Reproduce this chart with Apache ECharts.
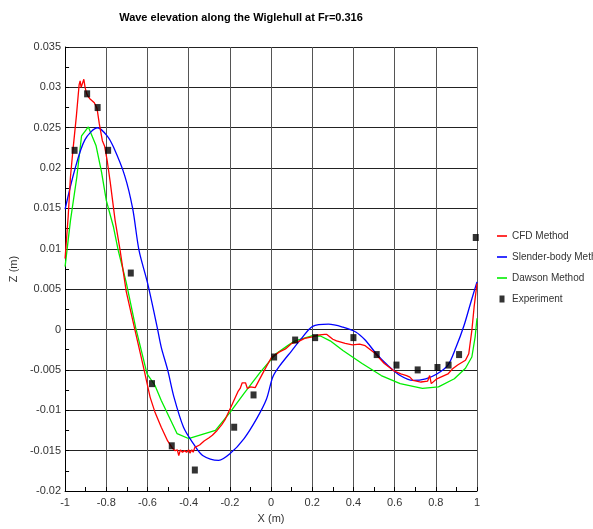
<!DOCTYPE html>
<html>
<head>
<meta charset="utf-8">
<script src="https://cdn.jsdelivr.net/npm/echarts@6/dist/echarts.min.js"></script>
<style>html,body{margin:0;padding:0;background:#fff}#c{width:593px;height:529px}</style>
</head>
<body>
<div id="c"></div>
<script>
var titleText = 'Wave elevation along the Wiglehull at Fr=0.316';
var seriesNames = ['CFD Method', 'Slender-body Method', 'Dawson Method', 'Experiment'];

var cfd = [[-1,0.0088],[-0.985,0.0140],[-0.974,0.0189],[-0.962,0.0222],[-0.945,0.0265],[-0.932,0.0303],[-0.927,0.0308],[-0.922,0.0300],[-0.915,0.0302],[-0.909,0.0310],[-0.903,0.0300],[-0.895,0.0292],[-0.889,0.0289],[-0.880,0.0286],[-0.873,0.0285],[-0.858,0.0281],[-0.845,0.0274],[-0.834,0.0255],[-0.819,0.0234],[-0.808,0.0227],[-0.796,0.0210],[-0.781,0.0183],[-0.757,0.0135],[-0.734,0.0100],[-0.703,0.0047],[-0.664,0.0003],[-0.618,-0.0048],[-0.587,-0.0084],[-0.564,-0.0102],[-0.533,-0.0121],[-0.502,-0.0138],[-0.479,-0.0147],[-0.465,-0.0150],[-0.455,-0.0149],[-0.448,-0.0156],[-0.440,-0.0149],[-0.430,-0.0152],[-0.420,-0.0150],[-0.410,-0.0152],[-0.400,-0.0149],[-0.394,-0.0153],[-0.385,-0.0149],[-0.378,-0.0152],[-0.370,-0.0146],[-0.347,-0.0143],[-0.325,-0.0138],[-0.301,-0.0134],[-0.285,-0.0131],[-0.262,-0.0125],[-0.240,-0.0118],[-0.224,-0.0112],[-0.193,-0.0095],[-0.161,-0.0077],[-0.150,-0.0073],[-0.140,-0.0066],[-0.131,-0.0068],[-0.124,-0.0066],[-0.115,-0.0073],[-0.100,-0.0071],[-0.077,-0.0072],[-0.038,-0.0053],[0.001,-0.0035],[0.039,-0.0028],[0.070,-0.0024],[0.101,-0.0017],[0.132,-0.0015],[0.163,-0.0011],[0.200,-0.0009],[0.225,-0.0007],[0.260,-0.0006],[0.271,-0.0006],[0.300,-0.0012],[0.318,-0.0014],[0.360,-0.0017],[0.395,-0.0019],[0.430,-0.0018],[0.457,-0.0020],[0.503,-0.0029],[0.550,-0.0042],[0.596,-0.0051],[0.630,-0.0055],[0.658,-0.0057],[0.674,-0.0059],[0.689,-0.0063],[0.728,-0.0065],[0.760,-0.0064],[0.770,-0.0057],[0.778,-0.0067],[0.805,-0.0061],[0.859,-0.0055],[0.880,-0.0049],[0.906,-0.0044],[0.944,-0.0038],[0.960,-0.0030],[0.975,-0.0001],[0.986,0.0028],[1.0,0.0057]];

var slender = [[-1,0.0149],[-0.954,0.0197],[-0.904,0.0235],[-0.842,0.0250],[-0.796,0.0240],[-0.765,0.0226],[-0.711,0.0191],[-0.672,0.0150],[-0.641,0.0098],[-0.600,0.0058],[-0.553,0.0003],[-0.533,-0.0022],[-0.502,-0.0050],[-0.471,-0.0084],[-0.425,-0.0121],[-0.378,-0.0141],[-0.332,-0.0156],[-0.254,-0.0162],[-0.200,-0.0154],[-0.131,-0.0135],[-0.069,-0.0110],[-0.022,-0.0086],[0.008,-0.0059],[0.039,-0.0046],[0.101,-0.0026],[0.148,-0.0011],[0.202,0.0004],[0.279,0.00066],[0.349,0.0003],[0.411,-0.0003],[0.457,-0.0013],[0.511,-0.0030],[0.565,-0.0044],[0.627,-0.0057],[0.689,-0.0063],[0.751,-0.0061],[0.805,-0.0055],[0.859,-0.0044],[0.898,-0.0022],[0.937,0.0005],[0.968,0.0032],[1.0,0.0059]];

var dawson = [[-1,0.0078],[-0.974,0.0135],[-0.943,0.0189],[-0.920,0.0240],[-0.887,0.0251],[-0.850,0.0228],[-0.823,0.0195],[-0.800,0.0160],[-0.765,0.0127],[-0.742,0.0098],[-0.703,0.0058],[-0.657,0.0002],[-0.602,-0.0055],[-0.564,-0.0069],[-0.533,-0.0088],[-0.456,-0.0129],[-0.401,-0.0135],[-0.270,-0.0125],[-0.200,-0.0103],[-0.131,-0.0079],[-0.053,-0.0053],[0.024,-0.0030],[0.086,-0.0019],[0.117,-0.0014],[0.194,-0.0008],[0.240,-0.0008],[0.287,-0.0014],[0.349,-0.0026],[0.442,-0.0042],[0.535,-0.0057],[0.627,-0.0067],[0.735,-0.0073],[0.813,-0.0071],[0.890,-0.0061],[0.944,-0.0048],[0.975,-0.0034],[0.991,-0.0009],[1.0,0.0014]];

var experiment = [[-0.954,0.0222],[-0.893,0.0292],[-0.842,0.0275],[-0.791,0.0222],[-0.681,0.0070],[-0.578,-0.0067],[-0.482,-0.0144],[-0.370,-0.0174],[-0.179,-0.0121],[-0.085,-0.0081],[0.015,-0.0034],[0.117,-0.0013],[0.214,-0.0010],[0.400,-0.0010],[0.513,-0.0031],[0.609,-0.0044],[0.712,-0.0050],[0.808,-0.0047],[0.862,-0.0044],[0.913,-0.0031],[0.994,0.0114]];

var xMin = -1, xMax = 1, xStep = 0.2;
var yMin = -0.02, yMax = 0.035, yStep = 0.005;

var FONT = '"Liberation Sans", Arial, sans-serif';
var chart = echarts.init(document.getElementById('c'), null, {renderer: 'canvas'});
function fmt(v, d) { return String(parseFloat(v.toFixed(d))); }
var lineIcon = 'path://M0,0h10v1.6h-10z';

chart.setOption({
  animation: false,
  backgroundColor: '#fff',
  title: {
    text: titleText, left: 241, top: 12, padding: 0, textAlign: 'center',
    textStyle: {fontFamily: FONT, fontSize: 11, fontWeight: 'bold', color: '#000'}
  },
  legend: {
    orient: 'vertical', left: 497, top: 231, padding: 0, itemWidth: 10, itemHeight: 7, itemGap: 11,
    textStyle: {fontFamily: FONT, fontSize: 10, color: '#333'},
    data: [
      {name: seriesNames[0], icon: lineIcon},
      {name: seriesNames[1], icon: lineIcon},
      {name: seriesNames[2], icon: lineIcon},
      {name: seriesNames[3], icon: 'path://M0,0h5v7h-5z'}
    ]
  },
  grid: {left: 46, right: 116, top: 47, bottom: 38, containLabel: false},
  xAxis: {
    type: 'value', min: xMin, max: xMax, interval: xStep,
    name: 'X (m)', nameLocation: 'middle', nameGap: 22,
    nameTextStyle: {fontFamily: FONT, fontSize: 11, color: '#333'},
    axisLine: {onZero: false, lineStyle: {color: '#000', width: 1}},
    axisTick: {show: true, inside: true, length: 4, lineStyle: {color: '#000'}},
    minorTick: {show: true, splitNumber: 2, length: 4, lineStyle: {color: '#000'}},
    axisLabel: {fontFamily: FONT, fontSize: 11, color: '#333', margin: 6, formatter: function (v) { return fmt(v, 2); }},
    splitLine: {show: true, lineStyle: {color: '#555', width: 1}}
  },
  yAxis: {
    type: 'value', min: yMin, max: yMax, interval: yStep,
    name: 'Z (m)', nameLocation: 'middle', nameGap: 34, nameRotate: 90,
    nameTextStyle: {fontFamily: FONT, fontSize: 11, color: '#333'},
    axisLine: {onZero: false, lineStyle: {color: '#000', width: 1}},
    axisTick: {show: true, inside: true, length: 4, lineStyle: {color: '#000'}},
    minorTick: {show: true, splitNumber: 2, length: 4, lineStyle: {color: '#000'}},
    axisLabel: {fontFamily: FONT, fontSize: 11, color: '#333', margin: 4, formatter: function (v) { return fmt(v, 4); }},
    splitLine: {show: true, lineStyle: {color: '#222', width: 1}}
  },
  series: [
    {name: seriesNames[0], type: 'line', data: cfd, symbol: 'none', itemStyle: {color: '#ff0000'}, lineStyle: {color: '#ff0000', width: 1.3}, z: 4},
    {name: seriesNames[1], type: 'line', data: slender, symbol: 'none', smooth: 0.3, itemStyle: {color: '#0000ff'}, lineStyle: {color: '#0000ff', width: 1.3}, z: 3},
    {name: seriesNames[2], type: 'line', data: dawson, symbol: 'none', itemStyle: {color: '#00ee00'}, lineStyle: {color: '#00ee00', width: 1.3}, z: 2},
    {name: seriesNames[3], type: 'scatter', data: experiment, symbol: 'rect', symbolSize: [6, 7], itemStyle: {color: '#000'}, z: 5}
  ]
});
</script>
</body>
</html>
